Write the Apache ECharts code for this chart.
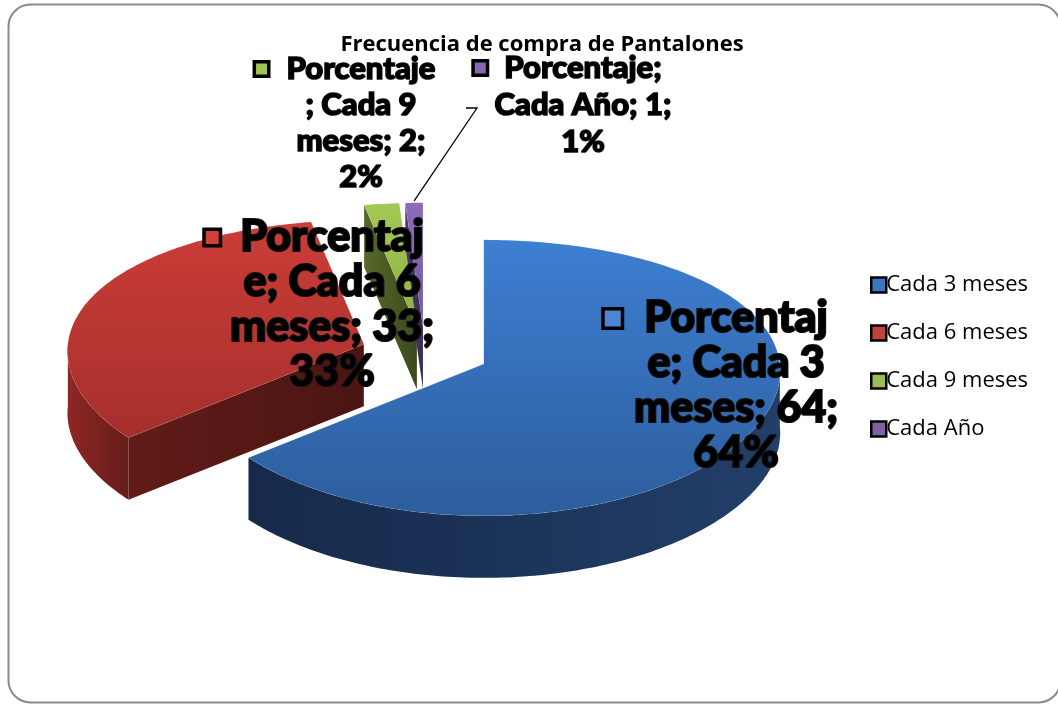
<!DOCTYPE html>
<html>
<head>
<meta charset="utf-8">
<script src="https://cdn.jsdelivr.net/npm/echarts@6/dist/echarts.min.js"></script>
<style>
  html, body { margin: 0; padding: 0; background: #fff; }
  #chart { width: 1058px; height: 704px; }
</style>
</head>
<body>
<div id="chart"></div>
<script>
// Frecuencia de compra de pantalones — exploded 3D pie
const categories = ['Cada 3 meses', 'Cada 6 meses', 'Cada 9 meses', 'Cada Año'];
const values = [64, 33, 2, 1];
const seriesLabel = 'Porcentaje';
const chartTitle = 'Frecuencia de compra de Pantalones';

// colours per slice: top face (light, dark), outer wall, cut face
const palette = [
  { base: '#3b78c4', icon: '#4a86d4', top: ['#3d7fd2', '#2d5d9c'], wall: ['#223f69', '#16294a'], cut: ['#1d3559', '#13233f'] },
  { base: '#c0433e', icon: '#d0403b', top: ['#cc3d37', '#a52f2c'], wall: ['#8e2723', '#651c19'], cut: ['#611c19', '#4a1512'] },
  { base: '#9bbb59', icon: '#9fc44f', top: ['#a4c855', '#8fb140'], wall: ['#55692a', '#3f4f1e'], cut: ['#56692b', '#3b4a1d'] },
  { base: '#8064a2', icon: '#8467b0', top: ['#8a6cbb', '#73569d'], wall: ['#4e3a6d', '#3b2b55'], cut: ['#4e3a6d', '#3a2a52'] }
];

// pie geometry (pixels); P / PX add a little perspective (front larger than back)
const CX = 425, CY = 353, RX = 296, RY = 138, DEPTH = 62, EXPLODE = 65, EXPLODE_Y = 0.4, P = 0.1, PX = 0.05;
// data label layout: centre of each label block, line breaks (char indices), font size, line height, key box size, gap
const labelLayout = [
  { x: 736, y: 386, breaks: [9, 18, 29], size: 43, lh: 45, icon: 23, gap: 20, stroke: 2.2 },
  { x: 332, y: 305, breaks: [9, 18, 29], size: 43, lh: 45, icon: 20, gap: 18, stroke: 2.2 },
  { x: 361, y: 123, breaks: [10, 18, 28], size: 31, lh: 36, icon: 18, gap: 16, stroke: 1.6 },
  { x: 583, y: 105, breaks: [11, 24], size: 31, lh: 37, icon: 18, gap: 15, stroke: 1.6 }
];

const total = values.reduce((a, b) => a + b, 0);
const rad = d => d * Math.PI / 180;
const measureCtx = document.createElement('canvas').getContext('2d');

function sliceGeom(i) {
  const before = values.slice(0, i).reduce((a, b) => a + b, 0);
  const s = before / total * 360;
  const e = (before + values[i]) / total * 360;
  const m = (s + e) / 2;
  return {
    s: s, e: e, m: m,
    ax: CX + EXPLODE * Math.sin(rad(m)),
    ay: CY - EXPLODE * Math.cos(rad(m)) * EXPLODE_Y
  };
}
function pt(ax, ay, deg, dy) {
  const c = Math.cos(rad(deg)), s = Math.sin(rad(deg));
  return [ax + RX * s * (1 - PX * c), ay - RY * c * (1 - P * c) + (dy || 0)];
}
function arc(ax, ay, a0, a1, dy) {
  const n = Math.max(2, Math.ceil(Math.abs(a1 - a0)));
  const out = [];
  for (let k = 0; k <= n; k++) out.push(pt(ax, ay, a0 + (a1 - a0) * k / n, dy));
  return out;
}
function grad(x0, y0, x1, y1, c) {
  return new echarts.graphic.LinearGradient(x0, y0, x1, y1, [
    { offset: 0, color: c[0] }, { offset: 1, color: c[1] }
  ]);
}
function splitLines(str, breaks) {
  const parts = [];
  let prev = 0;
  breaks.concat([str.length]).forEach(b => { parts.push(str.slice(prev, b).trim()); prev = b; });
  return parts;
}

function makeRender(i) {
  return function (params, api) {
    const g = sliceGeom(i);
    const ax = g.ax, ay = g.ay, s = g.s, e = g.e;
    const pal = palette[i];
    const children = [];

    // radial cut faces facing the viewer
    [[s, -Math.sin(rad(s))], [e, Math.sin(rad(e))]].forEach(([a, facing]) => {
      if (facing > 0.001) {
        const o = pt(ax, ay, a);
        children.push({
          type: 'polygon', z2: 1,
          shape: { points: [[ax, ay], o, [o[0], o[1] + DEPTH], [ax, ay + DEPTH]] },
          style: { fill: grad(0, 0, 1, 0, pal.cut) }
        });
      }
    });

    // outer wall on the front half of the ellipse
    const w0 = Math.max(s, 90), w1 = Math.min(e, 270);
    if (w1 > w0) {
      const topArc = arc(ax, ay, w0, w1, 0);
      const botArc = arc(ax, ay, w0, w1, DEPTH).reverse();
      children.push({
        type: 'polygon', z2: 2,
        shape: { points: topArc.concat(botArc) },
        style: { fill: grad(0, 0, 1, 0, i === 0 ? [pal.wall[1], pal.wall[0]] : pal.wall) }
      });
    }

    // top face
    children.push({
      type: 'polygon', z2: 3,
      shape: { points: [[ax, ay]].concat(arc(ax, ay, s, e, 0)) },
      style: { fill: grad(0, 0, 0, 1, pal.top), stroke: 'rgba(255,255,255,0.15)', lineWidth: 0.5 }
    });

    return { type: 'group', children: children };
  };
}

// data labels (centred lines, key box left of the first line) and the leader line of the smallest slice
function buildLabels() {
  const els = [];
  categories.forEach((cat, i) => {
    const L = labelLayout[i];
    const pal = palette[i];
    const pct = Math.round(values[i] / total * 100);
    const full = seriesLabel + '; ' + cat + '; ' + values[i] + '; ' + pct + '%';
    const lines = splitLines(full, L.breaks);
    const font = '900 ' + L.size + 'px Lato';
    const top0 = L.y - (lines.length - 1) * L.lh / 2;
    measureCtx.font = font;
    const w1st = measureCtx.measureText(lines[0]).width;
    const bx = L.x - w1st / 2 - L.gap - L.icon;
    const by = top0 - L.icon / 2;
    // key box: black frame with a coloured inner square
    els.push({
      type: 'rect', z: 50, silent: true,
      shape: { x: bx, y: by, width: L.icon, height: L.icon },
      style: { fill: '#000' }
    });
    els.push({
      type: 'rect', z: 51, silent: true,
      shape: { x: bx + 3.5, y: by + 3.5, width: L.icon - 7, height: L.icon - 7 },
      style: { fill: pal.icon }
    });
    lines.forEach((ln, k) => {
      els.push({
        type: 'text', z: 52, silent: true, x: L.x, y: top0 + k * L.lh,
        style: { text: ln, align: 'center', verticalAlign: 'middle', fill: '#000', stroke: '#111', lineWidth: L.stroke, font: font }
      });
    });
  });
  const g = sliceGeom(3);
  const tip = pt(g.ax, g.ay, g.m);
  els.push({
    type: 'polyline', z: 49, silent: true,
    shape: { points: [[466, 108], [477, 108], [tip[0], tip[1] - 2]] },
    style: { stroke: '#000', lineWidth: 1.3, fill: null }
  });
  return els;
}

const seriesZ = [2, 2, 1, 1];
const series = categories.map((name, i) => ({
  type: 'custom',
  name: name,
  coordinateSystem: 'none',
  z: seriesZ[i],
  itemStyle: { color: palette[i].base },
  data: [values[i]],
  renderItem: makeRender(i),
  silent: true
}));

const chart = echarts.init(document.getElementById('chart'), null, { renderer: 'canvas' });
chart.setOption({
  animation: false,
  backgroundColor: '#ffffff',
  title: {
    text: chartTitle,
    left: 537, top: 29, textAlign: 'center',
    textStyle: { fontFamily: 'Open Sans', fontSize: 22, fontWeight: 'bold', color: '#000' }
  },
  legend: {
    orient: 'vertical',
    left: 865, top: 268,
    itemWidth: 15, itemHeight: 15, itemGap: 24,
    icon: 'rect',
    itemStyle: { borderColor: '#000', borderWidth: 2.5 },
    textStyle: { fontFamily: 'Open Sans', fontSize: 22, color: '#000', padding: [0, 0, 0, -5], lineHeight: 24 },
    data: categories
  },
  graphic: [{
    type: 'rect', silent: true, z: -1,
    shape: { x: 8.5, y: 4.5, width: 1052, height: 698, r: 22 },
    style: { fill: 'none', stroke: '#8a8a8a', lineWidth: 2 }
  }].concat(buildLabels()),
  series: series
});
</script>
</body>
</html>
